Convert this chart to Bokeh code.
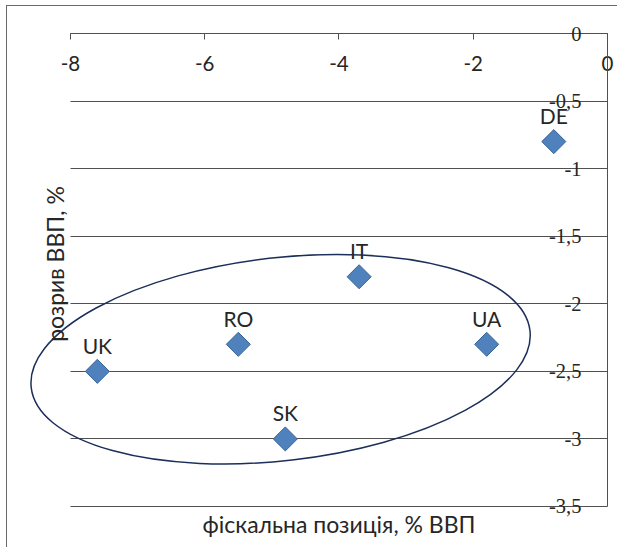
import math
from bokeh.plotting import figure
from bokeh.models import FixedTicker, Range1d, Label, LabelSet, ColumnDataSource
from bokeh.core.properties import value
from bokeh.embed import file_html
from bokeh.resources import INLINE

# data
countries = ["DE", "IT", "RO", "UA", "UK", "SK"]
fiscal_position = [-0.8, -3.7, -5.5, -1.8, -7.6, -4.8]
output_gap = [-0.8, -1.8, -2.3, -2.3, -2.5, -3.0]

x_ticks = [-8, -6, -4, -2, 0]
x_tick_labels = ["-8", "-6", "-4", "-2", "0"]
y_ticks = [0, -0.5, -1, -1.5, -2, -2.5, -3, -3.5]
y_tick_labels = ["0", "-0,5", "-1", "-1,5", "-2", "-2,5", "-3", "-3,5"]

x_title = "фіскальна позиція, % ВВП"
y_title = "розрив ВВП, %"

# highlighted group (ellipse annotation)
ellipse_x = [-4.87]
ellipse_y = [-2.41]

FONT = "Lato"
TXT = "#262626"
GRID = "#505050"

p = figure(width=611, height=542, output_backend="svg", toolbar_location=None,
           x_range=Range1d(-8.9385, 0.1639), y_range=Range1d(-3.8108, 0.1998),
           x_axis_location="above", y_axis_location="right",
           min_border_left=0, min_border_right=0, min_border_top=0, min_border_bottom=0)
p.margin = (5, 0, 0, 6)
p.styles = {"border-left": "1px solid #6a6a6a", "border-top": "1px solid #6a6a6a"}
p.outline_line_color = None
p.background_fill_color = "white"
p.border_fill_color = "white"

# x axis: crosses at y = 0, ticks pointing down, labels under the line
xa = p.xaxis[0]
xa.fixed_location = 0
xa.ticker = FixedTicker(ticks=x_ticks)
xa.bounds = (x_ticks[0], x_ticks[-1])
xa.major_label_overrides = {t: l for t, l in zip(x_ticks, x_tick_labels)}
xa.major_tick_in = 6
xa.major_tick_out = 0
xa.minor_tick_in = 0
xa.minor_tick_out = 0
xa.major_label_standoff = -37
xa.axis_line_color = GRID
xa.major_tick_line_color = GRID
xa.major_label_text_font = FONT
xa.major_label_text_font_size = "20.5px"
xa.major_label_text_color = TXT

# y axis: crosses at x = 0, line only; labels drawn right-aligned to its left
ya = p.yaxis[0]
ya.fixed_location = 0
ya.ticker = FixedTicker(ticks=[])
ya.bounds = (y_ticks[-1], y_ticks[0])
ya.major_tick_in = 0
ya.major_tick_out = 0
ya.minor_tick_in = 0
ya.minor_tick_out = 0
ya.axis_line_color = GRID

ysrc = ColumnDataSource(dict(x=[x_ticks[-1]] * len(y_ticks), y=y_ticks, text=y_tick_labels))
p.add_layout(LabelSet(x="x", y="y", text="text", source=ysrc, x_offset=-26,
                      text_align="right", text_baseline="middle",
                      text_font=FONT, text_font_size="20.5px", text_color=TXT))

p.xgrid.visible = False
p.ygrid.ticker = FixedTicker(ticks=y_ticks)
p.ygrid.cross_bounds = (x_ticks[0], x_ticks[-1])
p.ygrid.grid_line_color = GRID
p.ygrid.grid_line_width = 1

# axis titles
p.add_layout(Label(x=331.5, y=25, x_units="screen", y_units="screen", text=x_title,
                   text_align="center", text_baseline="middle",
                   text_font=FONT, text_font_size="23px", text_color=TXT))
p.add_layout(Label(x=47.5, y=284.5, x_units="screen", y_units="screen", text=y_title,
                   angle=math.pi / 2, text_align="center", text_baseline="middle",
                   text_font=FONT, text_font_size="23px", text_color=TXT))

# ellipse
p.ellipse(x=ellipse_x, y=ellipse_y, width=502, height=203, angle=6.5, angle_units="deg",
          width_units="screen", height_units="screen",
          fill_color=None, line_color="#1c2f5a", line_width=1.5)

# markers
p.scatter(fiscal_position, output_gap, marker="square", angle=45, angle_units="deg",
          size=17, fill_color="#4F81BD", line_color="#3a6496", line_width=1)

# labels
p.text(fiscal_position, output_gap, text=countries, y_offset=-26,
       text_align="center", text_baseline="alphabetic",
       text_font=value(FONT), text_font_size="21px", text_color=TXT)

open("out.html", "w").write(file_html(p, INLINE))
